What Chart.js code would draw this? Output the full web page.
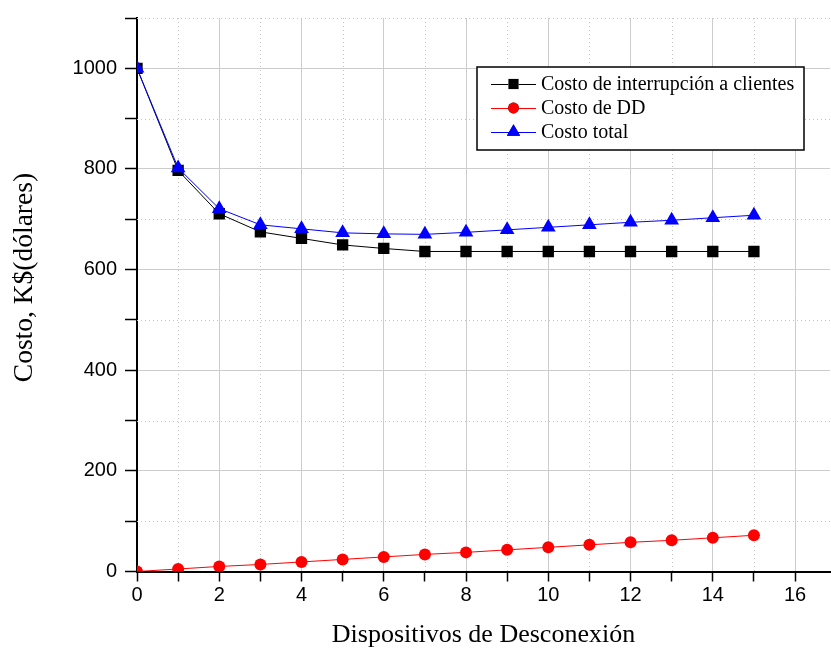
<!DOCTYPE html>
<html>
<head>
<meta charset="utf-8">
<script src="https://cdn.jsdelivr.net/npm/chart.js@4.4.1/dist/chart.umd.min.js"></script>
<style>
  html, body { margin: 0; padding: 0; background: #ffffff; }
  #wrap { width: 831px; height: 651px; position: relative; }
</style>
</head>
<body>
<div id="wrap"><canvas id="c" width="831" height="651"></canvas></div>
<script>
// ---- data ----
const categories = [0, 1, 2, 3, 4, 5, 6, 7, 8, 9, 10, 11, 12, 13, 14, 15];
const costoInterrupcion = [1000, 797, 711, 675, 662, 649, 642, 636, 636, 636, 636, 636, 636, 636, 636, 636];
const costoDD = [0, 5, 10, 14, 19, 24, 29, 34, 38, 43, 48, 53, 58, 62, 67, 72];
const costoTotal = [1000, 802, 721, 689, 681, 673, 671, 670, 674, 679, 684, 689, 694, 698, 703, 708];

const seriesLabels = ['Costo de interrupción a clientes', 'Costo de DD', 'Costo total'];
const xTickValues = [0, 1, 2, 3, 4, 5, 6, 7, 8, 9, 10, 11, 12, 13, 14, 15, 16];
const xMajorTicks = [0, 2, 4, 6, 8, 10, 12, 14, 16];
const yTickValues = [0, 100, 200, 300, 400, 500, 600, 700, 800, 900, 1000, 1100];
const yMajorTicks = [0, 200, 400, 600, 800, 1000];
const xTitle = 'Dispositivos de Desconexión';
const yTitle = 'Costo, K$(dólares)';

const toPoints = (vals) => categories.map((c, i) => ({ x: c, y: vals[i] }));

const SERIF = "'Liberation Serif', 'Times New Roman', serif";
const SANS = "'Liberation Sans', Arial, sans-serif";

// minor dotted grid lines drawn through the scales
const minorGrid = {
  id: 'minorGrid',
  beforeDatasetsDraw(chart) {
    const { ctx, chartArea: a, scales: { x, y } } = chart;
    ctx.save();
    ctx.strokeStyle = '#c4c4c4';
    ctx.lineWidth = 1;
    ctx.setLineDash([1, 3]);
    xTickValues.filter(v => !xMajorTicks.includes(v)).forEach(v => {
      const px = Math.round(x.getPixelForValue(v)) + 0.5;
      ctx.beginPath(); ctx.moveTo(px, a.top); ctx.lineTo(px, a.bottom); ctx.stroke();
    });
    yTickValues.filter(v => !yMajorTicks.includes(v)).forEach(v => {
      const py = Math.round(y.getPixelForValue(v)) + 0.5;
      ctx.beginPath(); ctx.moveTo(a.left, py); ctx.lineTo(a.right, py); ctx.stroke();
    });
    ctx.restore();
  }
};

// boxed legend with line-marker-line samples
const boxLegend = {
  id: 'boxLegend',
  afterDatasetsDraw(chart) {
    const { ctx, chartArea: a } = chart;
    const bx = a.right - 353, by = 67, bw = 327, bh = 83;
    ctx.save();
    ctx.fillStyle = '#ffffff';
    ctx.fillRect(bx, by, bw, bh);
    ctx.strokeStyle = '#000';
    ctx.lineWidth = 1.5;
    ctx.strokeRect(bx, by, bw, bh);
    [0, 1, 2].forEach((di, k) => {
      const ds = chart.data.datasets[di];
      const cy = by + 17 + k * 24;
      const x0 = bx + 14, x1 = bx + 59, xm = (x0 + x1) / 2;
      ctx.strokeStyle = ds.borderColor;
      ctx.lineWidth = 1;
      ctx.beginPath(); ctx.moveTo(x0, cy + 0.5); ctx.lineTo(x1, cy + 0.5); ctx.stroke();
      Chart.helpers.drawPoint(ctx, {
        pointStyle: ds.pointStyle, radius: ds.pointRadius * 0.9, rotation: 0, borderWidth: 0
      }, xm, cy);
      ctx.fillStyle = ds.pointBackgroundColor;
      ctx.fill();
      ctx.fillStyle = '#000';
      ctx.font = '20px ' + SERIF;
      ctx.textBaseline = 'middle';
      ctx.textAlign = 'left';
      ctx.fillText(ds.label, bx + 64, cy + 1);
    });
    ctx.restore();
  }
};

const PAD_LEFT = 4;
const PAD_TOP = 18;
const AREA_LEFT = 137;
const AREA_BOTTOM = 571.5;

new Chart(document.getElementById('c'), {
  type: 'line',
  data: {
    datasets: [
      {
        label: seriesLabels[0], data: toPoints(costoInterrupcion),
        borderColor: '#000000', backgroundColor: '#000000',
        pointBackgroundColor: '#000000', pointBorderColor: '#000000',
        pointStyle: 'rect', pointRadius: 8, pointBorderWidth: 0, borderWidth: 1,
        tension: 0, order: 2, clip: 0
      },
      {
        label: seriesLabels[1], data: toPoints(costoDD),
        borderColor: '#ff0000', backgroundColor: '#ff0000',
        pointBackgroundColor: '#ff0000', pointBorderColor: '#ff0000',
        pointStyle: 'circle', pointRadius: 6, pointBorderWidth: 0, borderWidth: 1,
        tension: 0, order: 1, clip: 0
      },
      {
        label: seriesLabels[2], data: toPoints(costoTotal),
        borderColor: '#0000ff', backgroundColor: '#0000ff',
        pointBackgroundColor: '#0000ff', pointBorderColor: '#0000ff',
        pointStyle: 'triangle', pointRadius: 8.5, pointBorderWidth: 0, borderWidth: 1,
        tension: 0, order: 0, clip: 0
      }
    ]
  },
  options: {
    responsive: false,
    animation: false,
    devicePixelRatio: 1,
    layout: { autoPadding: false, padding: { left: PAD_LEFT, top: PAD_TOP, right: 1, bottom: 0 } },
    plugins: { legend: { display: false }, tooltip: { enabled: false } },
    scales: {
      x: {
        type: 'linear', min: 0, max: 16.85,
        afterBuildTicks: (s) => { s.ticks = xTickValues.map(v => ({ value: v })); },
        afterFit: (s) => { s.height = 651 - AREA_BOTTOM; s.paddingLeft = 0; s.paddingRight = 0; },
        ticks: {
          color: '#000', font: { family: SANS, size: 20 }, padding: 2,
          maxRotation: 0, autoSkip: false,
          callback: (v) => xMajorTicks.includes(v) ? String(v) : ''
        },
        grid: {
          color: (c) => (c.tick && xMajorTicks.includes(c.tick.value)) ? '#cccccc' : 'rgba(0,0,0,0)',
          lineWidth: 1, tickColor: '#000', tickLength: 10, tickWidth: 1.5
        },
        border: { color: '#000', width: 2 },
        title: {
          display: true, text: xTitle, color: '#000',
          font: { family: SERIF, size: 26 }, padding: { top: 10, bottom: 0 }
        }
      },
      y: {
        type: 'linear', min: 0, max: 1100,
        afterBuildTicks: (s) => { s.ticks = yTickValues.map(v => ({ value: v })); },
        afterFit: (s) => { s.width = AREA_LEFT - PAD_LEFT; s.paddingTop = 0; s.paddingBottom = 0; },
        ticks: {
          color: '#000', font: { family: SANS, size: 20 }, padding: 8,
          autoSkip: false,
          callback: (v) => yMajorTicks.includes(v) ? String(v) : ''
        },
        grid: {
          color: (c) => (c.tick && yMajorTicks.includes(c.tick.value)) ? '#cccccc' : 'rgba(0,0,0,0)',
          lineWidth: 1, tickColor: '#000', tickLength: 12, tickWidth: 1.5
        },
        border: { color: '#000', width: 2 },
        title: {
          display: true, text: '     ' + yTitle, color: '#000',
          font: { family: SERIF, size: 27.5 }, padding: { top: 4, bottom: 0 }
        }
      }
    }
  },
  plugins: [minorGrid, boxLegend]
});
</script>
</body>
</html>
